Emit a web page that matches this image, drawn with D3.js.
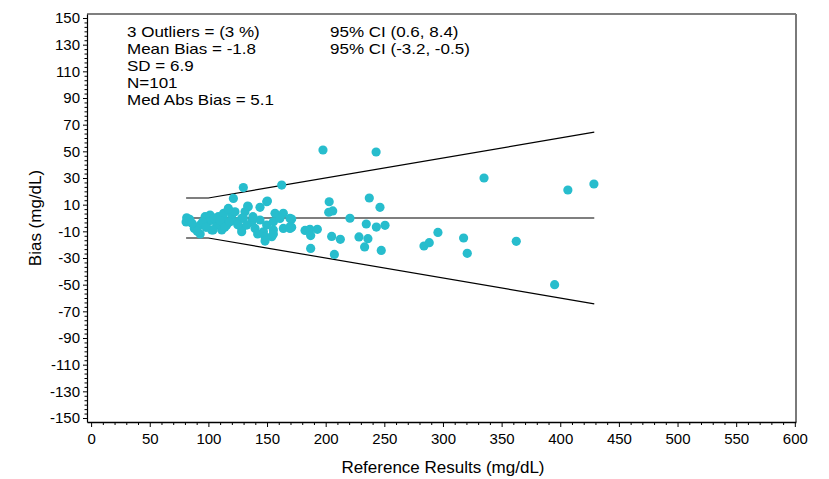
<!DOCTYPE html>
<html>
<head>
<meta charset="utf-8">
<script src="https://cdn.jsdelivr.net/npm/d3@7"></script>
<style>
  html, body { margin: 0; padding: 0; background: #fff; }
  svg { display: block; font-family: "Liberation Sans", Arial, sans-serif; }
</style>
</head>
<body>
<svg id="chart" width="829" height="479"></svg>
<script>
// ---- data ----
const refValues = [
  197.7, 243, 335, 406.5, 428.7, 203, 237.2, 246.3, 202.6, 206,
  171, 220.7, 234.6, 243.2, 250.6, 171, 182.4, 186.6, 192.9, 187.2,
  205.1, 212.5, 228.4, 236, 233.2, 247.4, 187.2, 207.4, 295.7, 283.8,
  288.3, 317.6, 320.7, 362.5, 395.2,
  81, 81.5, 88, 93, 92.9, 97.2, 101.4, 104.3, 108.5, 112.8,
  117, 119.9, 121.3, 124.2, 128.4, 128.4, 90.5, 102.8, 111.4, 115.6,
  100, 107.1, 122.7, 129.8, 162.5, 149.7, 144, 134, 131.2, 156.8,
  163.9, 169.6, 129.8, 137, 144, 149.7, 155.4, 161, 169.6, 132.7,
  139.8, 146.9, 155.4, 163.9, 128.4, 148.3, 154, 148.3, 155.4, 104,
  113, 117, 150.3, 133.5, 169.6,
  84, 86, 95, 98, 105, 110, 114, 118, 125, 138, 142
];
const biasValues = [
  51, 49.5, 30, 21, 25.5, 12.2, 15, 8, 4.3, 5.3,
  -0.8, -0.2, -4.5, -6.8, -5.5, -7, -9.3, -8.5, -8.5, -13.2,
  -13.8, -16, -14.2, -15.5, -21.7, -24.3, -22.8, -27.3, -10.8, -21,
  -18.5, -15, -26.5, -17.5, -50,
  -3, 0.2, -7.8, -12, -5.3, 1, 2.2, -1.5, 1, -0.3,
  7.2, 2.2, 14.7, -2.8, -0.3, -7.8, -10, -9, -9, -5.3,
  -2.8, -5.3, 4.7, 22.8, 24.7, 12.2, 8, 8.5, 4.7, 3.5,
  3.5, -0.3, -0.2, -2.8, -1.5, -5.3, -2.8, -0.3, -6.5, -5.3,
  -7.8, -10.3, -9, -7.8, -10.3, -14, -14, -17.3, -12, -9,
  3.5, 6.5, 12.7, 9, -7.8,
  -1, -4, -3, -7, 0, -2, -7, -3, -5, 1, -12
];
const limitRef = [81, 100, 429];
const upperLimit = [15, 15, 64.4];
const lowerLimit = [-15, -15, -64.4];
const zeroRef = [81, 429];
const zeroBias = [0, 0];

const xTicks = [0, 50, 100, 150, 200, 250, 300, 350, 400, 450, 500, 550, 600];
const yTicks = [-150, -130, -110, -90, -70, -50, -30, -10, 10, 30, 50, 70, 90, 110, 130, 150];

const statsLeft = ["3 Outliers = (3 %)", "Mean Bias = -1.8", "SD = 6.9", "N=101", "Med Abs Bias = 5.1"];
const statsRight = ["95% CI (0.6, 8.4)", "95% CI (-3.2, -0.5)"];

const xTitle = "Reference Results (mg/dL)";
const yTitle = "Bias (mg/dL)";

// ---- layout ----
const svg = d3.select("#chart");
const L = 87, R = 796, T = 14, B = 422;
const x = d3.scaleLinear().domain([-3.5, 601]).range([L, R]);
const y = d3.scaleLinear().domain([-153, 153]).range([B, T]);
const font = '"Liberation Sans", Arial, sans-serif';
const pointColor = "#27BDCD";
const fmt = d => String(d);

// frame top/right
svg.append("line").attr("x1", L).attr("x2", R).attr("y1", T).attr("y2", T)
  .attr("stroke", "#000").attr("stroke-width", 1.2);
svg.append("line").attr("x1", R).attr("x2", R).attr("y1", T).attr("y2", B)
  .attr("stroke", "#7a7a7a").attr("stroke-width", 2);

// minor ticks
const xMinor = d3.range(0, 601, 10).filter(v => v % 50 !== 0);
svg.append("g").attr("transform", `translate(0,${B})`)
  .call(d3.axisBottom(x).tickValues(xMinor).tickSize(3).tickSizeOuter(0).tickFormat(""))
  .call(g => g.select(".domain").remove());
const yMinor = [];
for (let i = 0; i < yTicks.length - 1; i++) {
  for (let k = 1; k < 6; k++) yMinor.push(yTicks[i] + k * 20 / 6);
}
svg.append("g").attr("transform", `translate(${L},0)`)
  .call(d3.axisLeft(y).tickValues(yMinor).tickSize(2.5).tickSizeOuter(0).tickFormat(""))
  .call(g => g.select(".domain").remove());

// major axes
const xAxis = svg.append("g").attr("transform", `translate(0,${B})`)
  .call(d3.axisBottom(x).tickValues(xTicks).tickSize(5).tickPadding(6).tickSizeOuter(0).tickFormat(fmt));
xAxis.selectAll("text").attr("font-size", 15).attr("font-family", font).attr("fill", "#000");
xAxis.select(".domain").attr("stroke-width", 1.5);

const yAxis = svg.append("g").attr("transform", `translate(${L},0)`)
  .call(d3.axisLeft(y).tickValues(yTicks).tickSize(4).tickPadding(3).tickSizeOuter(0).tickFormat(fmt));
yAxis.selectAll("text").attr("font-size", 15).attr("font-family", font).attr("fill", "#000");
yAxis.select(".domain").attr("stroke-width", 1.2);

// limit lines
const line = d3.line().x(d => x(d[0])).y(d => y(d[1]));
[upperLimit, lowerLimit].forEach(arr => {
  svg.append("path").datum(limitRef.map((r, i) => [r, arr[i]]))
    .attr("d", line).attr("fill", "none").attr("stroke", "#000").attr("stroke-width", 1.2);
});
svg.append("path").datum(zeroRef.map((r, i) => [r, zeroBias[i]]))
  .attr("d", line).attr("fill", "none").attr("stroke", "#000").attr("stroke-width", 1.2);

// points
svg.append("g").selectAll("circle")
  .data(refValues.map((r, i) => [r, biasValues[i]]))
  .join("circle")
  .attr("cx", d => x(d[0])).attr("cy", d => y(d[1]))
  .attr("r", 4.6).attr("fill", pointColor);

// stats text: drawn at 15px, stretched to the width of 17px text
function stretchText(sel) {
  sel.each(function () {
    const t = d3.select(this);
    t.attr("font-size", 17);
    const w = this.getComputedTextLength();
    t.attr("font-size", 15).attr("textLength", w).attr("lengthAdjust", "spacingAndGlyphs");
  });
}
const rowY = [31, 48, 65, 82, 99];
svg.append("g").selectAll("text").data(statsLeft).join("text")
  .attr("x", 127).attr("y", (d, i) => rowY[i]).attr("dominant-baseline", "central")
  .attr("font-family", font).text(d => d).call(stretchText);
svg.append("g").selectAll("text").data(statsRight).join("text")
  .attr("x", 330).attr("y", (d, i) => rowY[i]).attr("dominant-baseline", "central")
  .attr("font-family", font).text(d => d).call(stretchText);

// titles
svg.append("text").attr("x", (x(0) + x(600)) / 2).attr("y", 467).attr("dominant-baseline", "central")
  .attr("text-anchor", "middle").attr("font-size", 17).attr("font-family", font).text(xTitle);
svg.append("text").attr("transform", `translate(35,${y(0)}) rotate(-90)`).attr("dominant-baseline", "central")
  .attr("text-anchor", "middle").attr("font-size", 17).attr("font-family", font).text(yTitle);
</script>
</body>
</html>
